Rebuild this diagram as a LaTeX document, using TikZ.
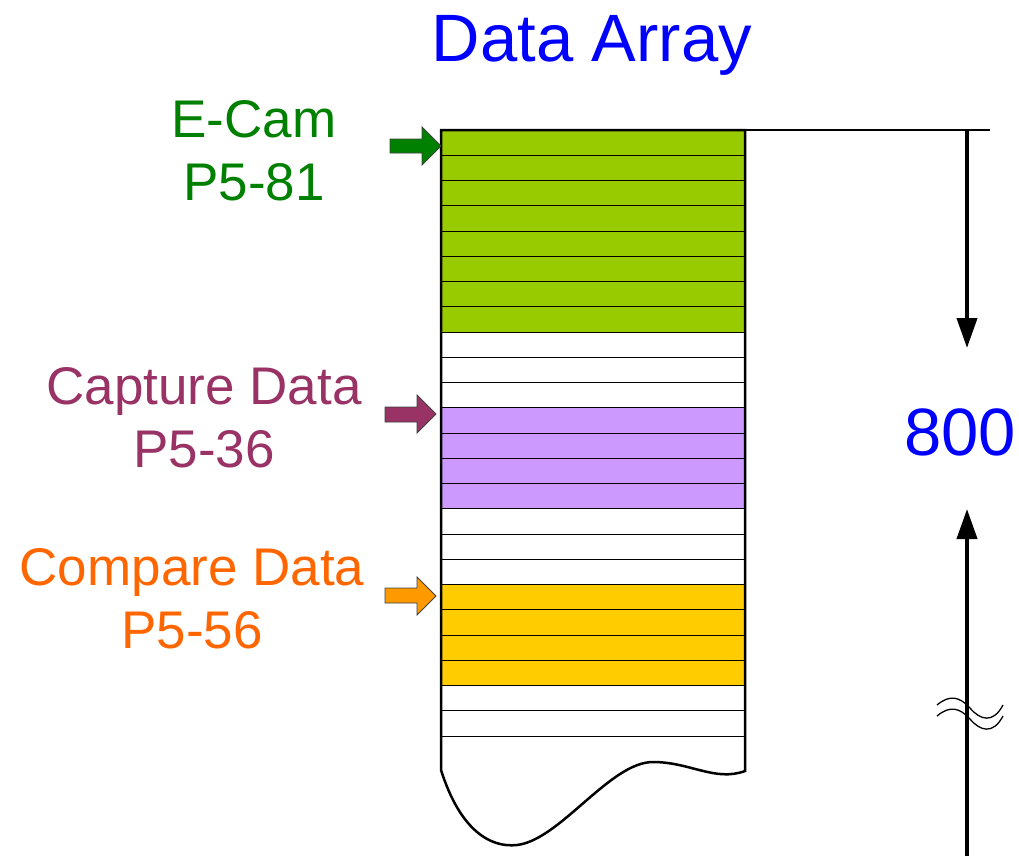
\documentclass[tikz,border=0pt]{standalone}
\usepackage{fontspec}
\setmainfont{Liberation Sans}
\usetikzlibrary{arrows.meta}

\definecolor{ecamtext}{HTML}{008000}
\definecolor{ecamfill}{HTML}{99CC00}
\definecolor{captext}{HTML}{993366}
\definecolor{capfill}{HTML}{CC99FF}
\definecolor{cmptext}{HTML}{FF6600}
\definecolor{cmpfill}{HTML}{FFCC00}
\definecolor{cmparrow}{HTML}{FF9900}
\definecolor{titleblue}{HTML}{0000FF}

\tikzset{
  bigtext/.style={font=\fontsize{67}{80}\selectfont, anchor=base, inner sep=0pt},
  labeltext/.style={font=\fontsize{53}{63}\selectfont, anchor=base, inner sep=0pt, align=center},
  blockarrow/.style={draw=black!75, line width=0.8pt},
  rowline/.style={line width=1pt, draw=black},
  outline/.style={line width=2.5pt, draw=black, line join=miter},
  dimarrow/.style={line width=4pt, -{Triangle[width=20pt,length=30pt]}},
  breakmark/.style={line width=1.3pt, draw=black},
}

\begin{document}
\begin{tikzpicture}[x=1pt, y=-1pt]
\useasboundingbox (0,0) rectangle (1019,856);

% column geometry
\def\colL{441}
\def\colR{745}
\def\colT{130}
\def\rowh{25.25}

% white background of the column, with torn bottom edge
\fill[white] (\colL,\colT) -- (\colL,770)
  .. controls (460,830) and (490,848) .. (517,845)
  .. controls (560,840) and (610,762) .. (653,762)
  .. controls (690,762) and (715,782) .. (\colR,771)
  -- (\colR,\colT) -- cycle;

% coloured record blocks
\fill[ecamfill] (\colL,\colT) rectangle (\colR,{\colT+8*\rowh});
\fill[capfill]  (\colL,{\colT+11*\rowh}) rectangle (\colR,{\colT+15*\rowh});
\fill[cmpfill]  (\colL,{\colT+18*\rowh}) rectangle (\colR,{\colT+22*\rowh});

% record separators
\foreach \k in {1,...,24}
  \draw[rowline] (\colL,{\colT+\k*\rowh}) -- (\colR,{\colT+\k*\rowh});

% column outline
\draw[outline] (\colL,\colT) -- (\colL,770)
  .. controls (460,830) and (490,848) .. (517,845)
  .. controls (560,840) and (610,762) .. (653,762)
  .. controls (690,762) and (715,782) .. (\colR,771)
  -- (\colR,\colT) -- cycle;

% top reference line
\coordinate (topL) at (\colR,\colT);
\coordinate (topR) at (990,\colT);
\draw[line width=2pt] (topL) -- (topR);

% size dimension arrows
\coordinate (dimTop) at (967,\colT);
\coordinate (dimTip1) at (967,348);
\coordinate (dimBot) at (967,856);
\coordinate (dimTip2) at (967,509);
\draw[dimarrow] (dimTop) -- (dimTip1);
\draw[dimarrow] (dimBot) -- (dimTip2);

% break mark on the lower dimension line
\draw[breakmark] (937,705) .. controls (950,694) and (960,697) .. (970,708)
  .. controls (980,720) and (993,724) .. (1003,705);
\draw[breakmark] (937,716) .. controls (950,705) and (960,708) .. (970,719)
  .. controls (980,731) and (993,735) .. (1003,716);

% pointer arrows
\filldraw[blockarrow, fill=ecamtext] (390,139) -- (422,139) -- (422,127) -- (441,146)
  -- (422,165) -- (422,153) -- (390,153) -- cycle;
\filldraw[blockarrow, fill=captext] (385,407) -- (417,407) -- (417,395) -- (436,414)
  -- (417,433) -- (417,422) -- (385,422) -- cycle;
\filldraw[blockarrow, fill=cmparrow] (385,588) -- (417,588) -- (417,577) -- (436,596)
  -- (417,615) -- (417,603) -- (385,603) -- cycle;

% texts (base anchor sits on the last line of a two-line label)
\node[bigtext, text=titleblue] (title) at (592,62) {Data Array};
\node[bigtext, text=titleblue] (size) at (960,455) {800};
\node[labeltext, text=ecamtext] (ecam) at (254,200) {E-Cam\\P5-81};
\node[labeltext, text=captext] (capture) at (204,467) {Capture Data\\P5-36};
\node[labeltext, text=cmptext] (compare) at (192,648) {Compare Data\\P5-56};
\end{tikzpicture}
\end{document}
